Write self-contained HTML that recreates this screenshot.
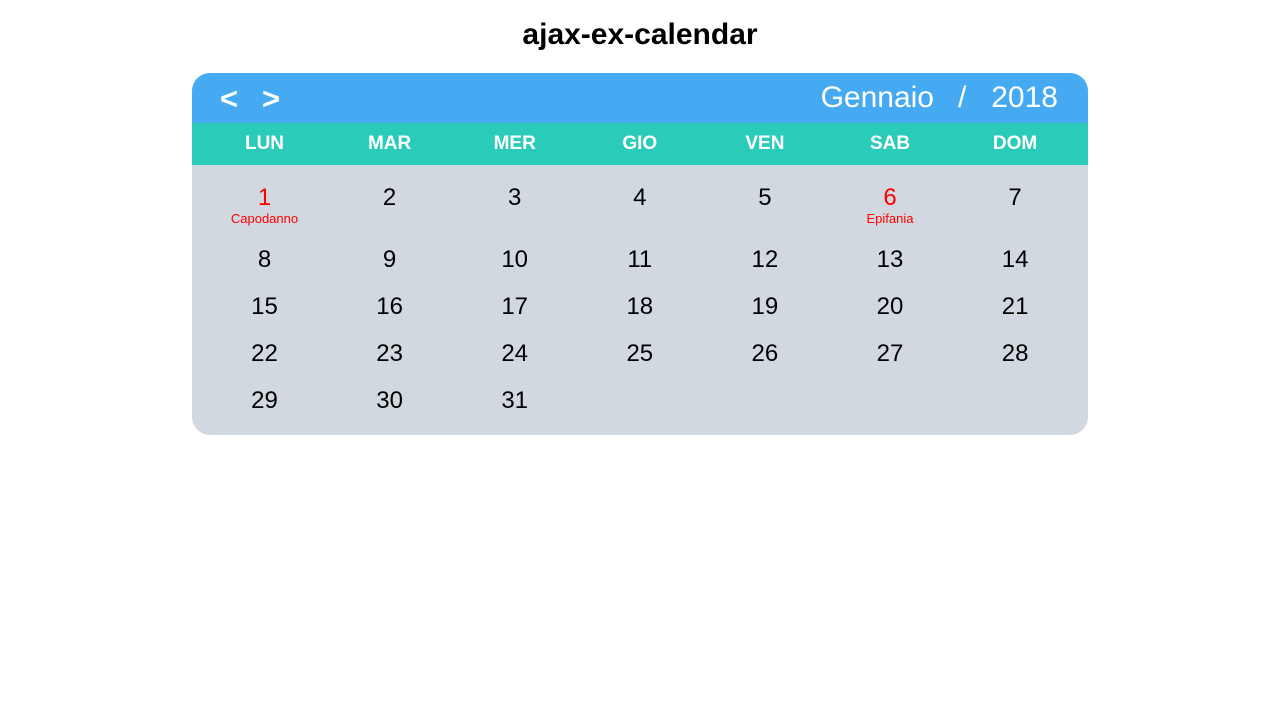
<!DOCTYPE html>
<html><head><meta charset="utf-8"><style>
body{margin:0;width:1280px;height:720px;background:#fff;font-family:"Liberation Sans",Arial,sans-serif;position:relative;overflow:hidden}
h1{position:absolute;top:15px;left:0;width:1280px;text-align:center;margin:0;font-size:30px;font-weight:bold;color:#000;line-height:40px}
#cal{position:absolute;left:192px;top:73px;width:896px;height:362px;border-radius:18px;overflow:hidden;background:#d1d8e0}
#hdr{position:absolute;left:0;top:0;width:896px;height:50px;background:#45aaf2;color:#fff}
.nav{position:absolute;top:6px;font-size:31px;line-height:40px;cursor:pointer;font-weight:bold}
.m{position:absolute;top:5px;font-size:30px;line-height:40px;white-space:pre}
#wd{position:absolute;left:0;top:50px;width:896px;height:42px;background:#2bcbba}
.w{position:absolute;top:0;width:125px;text-align:center;color:#fff;font-weight:bold;font-size:19px;line-height:42px}
.d{position:absolute;width:125px;text-align:center;font-size:24px;line-height:30px;color:#000}
.h{color:#f00}
.lbl{position:absolute;width:125px;text-align:center;font-size:13px;color:#f00;line-height:16px}
</style></head><body>
<h1>ajax-ex-calendar</h1>
<div id="cal">
 <div id="hdr">
  <span class="nav" style="left:28px">&lt;</span>
  <span class="nav" style="left:70px">&gt;</span>
  <span class="m" style="right:154px">Gennaio</span>
  <span class="m" style="left:766px">/</span>
  <span class="m" style="right:30px">2018</span>
 </div>
 <div id="wd"></div>
 <div id="days"></div>
</div>
<script>
const weekdays=["LUN","MAR","MER","GIO","VEN","SAB","DOM"];
const holidays={1:"Capodanno",6:"Epifania"};
const daysInMonth=31;
const firstOffset=0;
const wd=document.getElementById('wd');
weekdays.forEach((n,i)=>{const e=document.createElement('div');e.className='w';e.style.left=(10+i*125.1)+'px';e.textContent=n;


wd.appendChild(e);});
const rowTops=[110,172,219,266,313];
for(let d=1;d<=daysInMonth;d++){const idx=d-1+firstOffset;const c=idx%7,r=Math.floor(idx/7);
const e=document.createElement('div');e.className='d'+(holidays[d]?' h':'');e.style.left=(10+c*125.1)+'px';e.style.top=rowTops[r]+'px';e.textContent=d;


document.getElementById('cal').appendChild(e);
if(holidays[d]){const l=document.createElement('div');l.className='lbl';l.style.left=(10+c*125.1)+'px';l.style.top=(rowTops[r]+28)+'px';l.textContent=holidays[d];


document.getElementById('cal').appendChild(l);}}
</script>
</body></html>
